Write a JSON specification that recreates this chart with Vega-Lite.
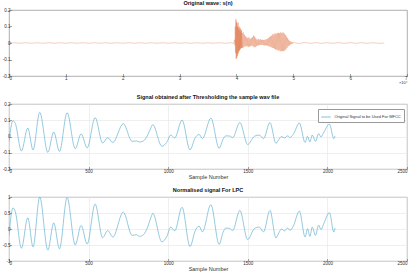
{
  "$schema": "https://vega.github.io/schema/vega-lite/v6.json",
  "padding": {"left": 1, "top": 0, "right": 6, "bottom": 0},
  "background": "white",
  "datasets": {
    "orig": [
      {"n": 0, "s": 0}, {"n": 1000, "s": 0.0015}, {"n": 2000, "s": -0.0015}, {"n": 3000, "s": 0.0015}, {"n": 4000, "s": -0.0015},
      {"n": 5000, "s": 0.0015}, {"n": 6000, "s": -0.0015}, {"n": 7000, "s": 0.0015}, {"n": 8000, "s": -0.0015}, {"n": 9000, "s": 0.0015},
      {"n": 10000, "s": -0.0015}, {"n": 11000, "s": 0.0015}, {"n": 12000, "s": -0.0015}, {"n": 13000, "s": 0.0015}, {"n": 14000, "s": -0.0015},
      {"n": 15000, "s": 0.0015}, {"n": 16000, "s": -0.0015}, {"n": 17000, "s": 0.0015}, {"n": 18000, "s": -0.0015}, {"n": 19000, "s": 0.0015},
      {"n": 20000, "s": -0.0015}, {"n": 21000, "s": 0.0015}, {"n": 22000, "s": -0.0015}, {"n": 23000, "s": 0.0015}, {"n": 24000, "s": -0.0015},
      {"n": 25000, "s": 0.0015}, {"n": 26000, "s": -0.0015}, {"n": 27000, "s": 0.0015}, {"n": 28000, "s": -0.0015}, {"n": 29000, "s": 0.0015},
      {"n": 30000, "s": -0.0015}, {"n": 31000, "s": 0.0015}, {"n": 32000, "s": -0.0015}, {"n": 33000, "s": 0.0015}, {"n": 34000, "s": -0.0015},
      {"n": 35000, "s": 0.0015}, {"n": 36000, "s": -0.0015}, {"n": 37000, "s": 0.0015}, {"n": 38000, "s": -0.0015}, {"n": 39000, "s": 0.0015},
      {"n": 39500, "s": -0.003},
      {"n": 39700, "s": 0.02}, {"n": 39750, "s": -0.015}, {"n": 39800, "s": 0.1}, {"n": 39850, "s": -0.06},
      {"n": 39900, "s": 0.145}, {"n": 39950, "s": -0.097}, {"n": 40000, "s": 0.13}, {"n": 40050, "s": -0.09},
      {"n": 40100, "s": 0.12}, {"n": 40150, "s": -0.08}, {"n": 40200, "s": 0.1}, {"n": 40250, "s": -0.07},
      {"n": 40300, "s": 0.125}, {"n": 40350, "s": -0.06}, {"n": 40400, "s": 0.09}, {"n": 40450, "s": -0.05},
      {"n": 40500, "s": 0.1}, {"n": 40550, "s": -0.045}, {"n": 40600, "s": 0.08}, {"n": 40650, "s": -0.04},
      {"n": 40700, "s": 0.09}, {"n": 40750, "s": -0.035}, {"n": 40800, "s": 0.07}, {"n": 40850, "s": -0.03},
      {"n": 40900, "s": 0.08}, {"n": 40950, "s": -0.03}, {"n": 41000, "s": 0.06}, {"n": 41100, "s": -0.03},
      {"n": 41200, "s": 0.065}, {"n": 41300, "s": -0.025}, {"n": 41400, "s": 0.05}, {"n": 41500, "s": -0.02},
      {"n": 41600, "s": 0.04}, {"n": 41700, "s": -0.02}, {"n": 41800, "s": 0.035}, {"n": 41900, "s": -0.02},
      {"n": 42000, "s": 0.03}, {"n": 42100, "s": -0.025}, {"n": 42200, "s": 0.035}, {"n": 42300, "s": -0.02},
      {"n": 42400, "s": 0.025}, {"n": 42500, "s": -0.02}, {"n": 42600, "s": 0.03}, {"n": 42700, "s": -0.015},
      {"n": 42800, "s": 0.035}, {"n": 42900, "s": -0.02}, {"n": 43000, "s": 0.045}, {"n": 43100, "s": -0.026},
      {"n": 43200, "s": 0.04}, {"n": 43300, "s": -0.025}, {"n": 43400, "s": 0.03}, {"n": 43500, "s": -0.02},
      {"n": 43600, "s": 0.02}, {"n": 43700, "s": -0.015}, {"n": 43800, "s": 0.025}, {"n": 43900, "s": -0.015},
      {"n": 44000, "s": 0.02}, {"n": 44100, "s": -0.012}, {"n": 44200, "s": 0.024}, {"n": 44300, "s": -0.012},
      {"n": 44400, "s": 0.018}, {"n": 44500, "s": -0.012}, {"n": 44600, "s": 0.02}, {"n": 44700, "s": -0.013},
      {"n": 44800, "s": 0.018}, {"n": 44900, "s": -0.015}, {"n": 45000, "s": 0.02}, {"n": 45100, "s": -0.015},
      {"n": 45200, "s": 0.022}, {"n": 45300, "s": -0.015}, {"n": 45400, "s": 0.025}, {"n": 45500, "s": -0.016},
      {"n": 45600, "s": 0.03}, {"n": 45700, "s": -0.02}, {"n": 45800, "s": 0.035}, {"n": 45900, "s": -0.022},
      {"n": 46000, "s": 0.04}, {"n": 46100, "s": -0.025}, {"n": 46200, "s": 0.045}, {"n": 46300, "s": -0.03},
      {"n": 46400, "s": 0.055}, {"n": 46500, "s": -0.03}, {"n": 46600, "s": 0.05}, {"n": 46700, "s": -0.035},
      {"n": 46800, "s": 0.06}, {"n": 46900, "s": -0.04}, {"n": 47000, "s": 0.055}, {"n": 47100, "s": -0.04},
      {"n": 47200, "s": 0.06}, {"n": 47300, "s": -0.045}, {"n": 47400, "s": 0.062}, {"n": 47500, "s": -0.045},
      {"n": 47600, "s": 0.06}, {"n": 47700, "s": -0.05}, {"n": 47800, "s": 0.065}, {"n": 47900, "s": -0.05},
      {"n": 48000, "s": 0.06}, {"n": 48100, "s": -0.048}, {"n": 48200, "s": 0.065}, {"n": 48300, "s": -0.05},
      {"n": 48400, "s": 0.058}, {"n": 48500, "s": -0.045}, {"n": 48600, "s": 0.05}, {"n": 48700, "s": -0.04},
      {"n": 48800, "s": 0.04}, {"n": 48900, "s": -0.03}, {"n": 49000, "s": 0.03}, {"n": 49100, "s": -0.02},
      {"n": 49200, "s": 0.02}, {"n": 49300, "s": -0.015}, {"n": 49400, "s": 0.012}, {"n": 49500, "s": -0.01},
      {"n": 49600, "s": 0.008}, {"n": 49700, "s": -0.006}, {"n": 49800, "s": 0.005}, {"n": 49900, "s": -0.004},
      {"n": 50000, "s": 0.004}, {"n": 51000, "s": -0.003}, {"n": 52000, "s": 0.003}, {"n": 53000, "s": -0.002},
      {"n": 54000, "s": 0.002}, {"n": 55000, "s": -0.002}, {"n": 56000, "s": 0.002}, {"n": 57000, "s": -0.002},
      {"n": 58000, "s": 0.002}, {"n": 59000, "s": -0.002}, {"n": 60000, "s": 0.002}, {"n": 61000, "s": -0.002},
      {"n": 62000, "s": 0.002}, {"n": 63000, "s": -0.002}, {"n": 64000, "s": 0.002}, {"n": 65000, "s": -0.002},
      {"n": 66000, "s": 0.0}
    ],
    "sig": [
      {"n": 0, "thr": -0.03, "norm": -0.2},
      {"n": 25, "thr": 0.098, "norm": 0.66},
      {"n": 40, "thr": 0.079, "norm": 0.53},
      {"n": 78, "thr": -0.089, "norm": -0.6},
      {"n": 118, "thr": 0.052, "norm": 0.35},
      {"n": 151, "thr": -0.083, "norm": -0.56},
      {"n": 193, "thr": 0.149, "norm": 1.0},
      {"n": 244, "thr": -0.098, "norm": -0.66},
      {"n": 281, "thr": 0.028, "norm": 0.19},
      {"n": 317, "thr": -0.092, "norm": -0.62},
      {"n": 365, "thr": 0.146, "norm": 0.98},
      {"n": 416, "thr": -0.075, "norm": -0.5},
      {"n": 453, "thr": 0.016, "norm": 0.11},
      {"n": 491, "thr": -0.07, "norm": -0.47},
      {"n": 541, "thr": 0.116, "norm": 0.78},
      {"n": 588, "thr": -0.04, "norm": -0.27},
      {"n": 620, "thr": -0.007, "norm": -0.05},
      {"n": 652, "thr": -0.037, "norm": -0.25},
      {"n": 718, "thr": 0.079, "norm": 0.53},
      {"n": 773, "thr": -0.03, "norm": -0.2},
      {"n": 800, "thr": -0.027, "norm": -0.18},
      {"n": 820, "thr": -0.034, "norm": -0.23},
      {"n": 845, "thr": -0.027, "norm": -0.18},
      {"n": 870, "thr": 0.007, "norm": 0.05},
      {"n": 893, "thr": 0.057, "norm": 0.38},
      {"n": 903, "thr": 0.073, "norm": 0.49},
      {"n": 960, "thr": -0.06, "norm": -0.4},
      {"n": 990, "thr": -0.037, "norm": -0.25},
      {"n": 1016, "thr": 0.009, "norm": 0.06},
      {"n": 1041, "thr": -0.009, "norm": -0.06},
      {"n": 1087, "thr": 0.101, "norm": 0.68},
      {"n": 1137, "thr": -0.082, "norm": -0.55},
      {"n": 1170, "thr": -0.007, "norm": -0.05},
      {"n": 1194, "thr": 0.013, "norm": 0.09},
      {"n": 1215, "thr": -0.013, "norm": -0.09},
      {"n": 1268, "thr": 0.113, "norm": 0.76},
      {"n": 1320, "thr": -0.072, "norm": -0.48},
      {"n": 1345, "thr": -0.015, "norm": -0.1},
      {"n": 1362, "thr": 0.004, "norm": 0.03},
      {"n": 1385, "thr": 0.003, "norm": 0.02},
      {"n": 1405, "thr": -0.007, "norm": -0.05},
      {"n": 1450, "thr": 0.086, "norm": 0.58},
      {"n": 1499, "thr": -0.049, "norm": -0.33},
      {"n": 1541, "thr": 0.001, "norm": 0.01},
      {"n": 1572, "thr": 0.009, "norm": 0.06},
      {"n": 1599, "thr": -0.013, "norm": -0.09},
      {"n": 1639, "thr": 0.086, "norm": 0.58},
      {"n": 1677, "thr": -0.042, "norm": -0.28},
      {"n": 1695, "thr": -0.018, "norm": -0.12},
      {"n": 1712, "thr": 0.0, "norm": 0.0},
      {"n": 1730, "thr": -0.009, "norm": -0.06},
      {"n": 1750, "thr": 0.004, "norm": 0.03},
      {"n": 1765, "thr": -0.006, "norm": -0.04},
      {"n": 1785, "thr": 0.012, "norm": 0.08},
      {"n": 1824, "thr": 0.083, "norm": 0.56},
      {"n": 1860, "thr": -0.037, "norm": -0.25},
      {"n": 1875, "thr": 0.001, "norm": 0.01},
      {"n": 1890, "thr": -0.034, "norm": -0.23},
      {"n": 1905, "thr": 0.009, "norm": 0.06},
      {"n": 1925, "thr": -0.03, "norm": -0.2},
      {"n": 1945, "thr": 0.018, "norm": 0.12},
      {"n": 1960, "thr": -0.003, "norm": -0.02},
      {"n": 1975, "thr": 0.021, "norm": 0.14},
      {"n": 2013, "thr": 0.076, "norm": 0.51},
      {"n": 2040, "thr": -0.013, "norm": -0.09},
      {"n": 2048, "thr": 0.004, "norm": 0.03}
    ]
  },
  "spacing": 28,
  "bounds": "flush",
  "vconcat": [
    {
      "width": 398,
      "height": 66,
      "title": {"text": "Original wave: s(n)"},
      "data": {"name": "orig"},
      "mark": {"type": "line", "color": "#D95319", "strokeWidth": 0.4, "opacity": 0.7, "clip": true},
      "encoding": {
        "x": {"field": "n", "type": "quantitative",
              "scale": {"domain": [0, 70000], "nice": false},
              "axis": {"values": [0, 10000, 20000, 30000, 40000, 50000, 60000, 70000],
                       "labelExpr": "'' + datum.value / 10000",
                       "grid": false, "title": "×10⁴", "titleAnchor": "end", "titleAlign": "right",
                       "titleFontSize": 4, "titleFontWeight": "normal", "titlePadding": 1}},
        "y": {"field": "s", "type": "quantitative",
              "scale": {"domain": [-0.2, 0.2], "nice": false, "zero": false},
              "axis": {"values": [-0.2, -0.1, 0, 0.1, 0.2], "labelExpr": "'' + datum.value", "grid": false, "title": null}}
      }
    },
    {
      "width": 398,
      "height": 65,
      "title": {"text": "Signal obtained after Thresholding the sample wav file"},
      "data": {"name": "sig"},
      "mark": {"type": "line", "strokeWidth": 0.6, "interpolate": "monotone", "clip": true},
      "encoding": {
        "x": {"field": "n", "type": "quantitative",
              "scale": {"domain": [0, 2500], "nice": false},
              "axis": {"values": [0, 500, 1000, 1500, 2000, 2500], "format": "d", "title": "Sample Number"}},
        "y": {"field": "thr", "type": "quantitative",
              "scale": {"domain": [-0.2, 0.2], "nice": false, "zero": false},
              "axis": {"values": [-0.2, -0.1, 0, 0.1, 0.2], "labelExpr": "'' + datum.value", "title": null}},
        "color": {"datum": "Original Signal to be Used For MFCC", "type": "nominal",
                  "scale": {"range": ["#4ea6c9"]},
                  "legend": {"title": null, "orient": "none", "legendX": 309, "legendY": 99,
                             "symbolType": "stroke", "symbolSize": 90, "symbolStrokeWidth": 0.7,
                             "labelFontSize": 4, "labelLimit": 300, "labelOffset": 3, "padding": 2.5,
                             "strokeColor": "#999", "fillColor": "white", "labelColor": "#333"}}
      }
    },
    {
      "width": 398,
      "height": 64,
      "title": {"text": "Normalised signal For LPC"},
      "data": {"name": "sig"},
      "mark": {"type": "line", "strokeWidth": 0.6, "interpolate": "monotone", "color": "#4ea6c9", "clip": true},
      "encoding": {
        "x": {"field": "n", "type": "quantitative",
              "scale": {"domain": [0, 2500], "nice": false},
              "axis": {"values": [0, 500, 1000, 1500, 2000, 2500], "format": "d", "title": "Sample Number"}},
        "y": {"field": "norm", "type": "quantitative",
              "scale": {"domain": [-1, 1], "nice": false, "zero": false},
              "axis": {"values": [-1, -0.5, 0, 0.5, 1], "labelExpr": "'' + datum.value", "title": null}}
      }
    }
  ],
  "config": {
    "font": "Liberation Sans",
    "view": {"stroke": "#9a9a9a", "strokeWidth": 0.8},
    "title": {"fontSize": 5.5, "fontWeight": "bold", "color": "#111", "offset": 1, "font": "Liberation Sans"},
    "axis": {
      "labelFontSize": 4.5, "labelColor": "#333", "labelPadding": 1.5,
      "tickSize": -2.5, "tickColor": "#666", "tickWidth": 0.6,
      "domain": false,
      "gridColor": "#e4e4e4", "gridWidth": 0.6,
      "titleFontSize": 5.5, "titleFontWeight": "normal", "titleColor": "#333", "titlePadding": 2
    }
  }
}
